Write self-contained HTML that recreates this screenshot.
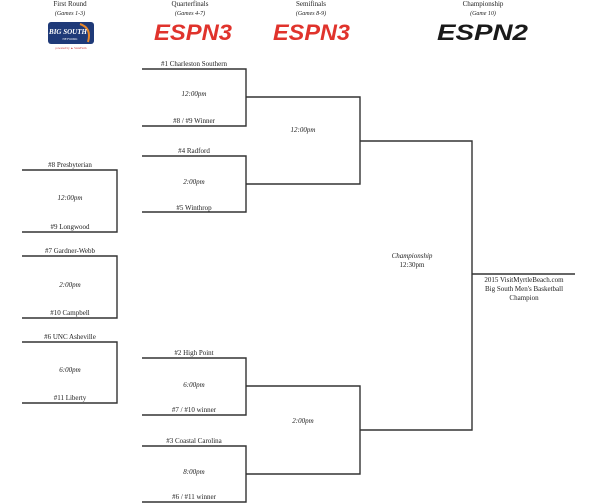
<!DOCTYPE html>
<html><head><meta charset="utf-8"><style>
html,body{margin:0;padding:0;background:#fff;}
svg{display:block;}
text{font-family:"Liberation Serif",serif;fill:#222;}
</style></head><body>
<svg width="600" height="504" viewBox="0 0 600 504" xmlns="http://www.w3.org/2000/svg">
<g font-size="7" text-anchor="middle">
<text x="70" y="6">First Round</text>
<text x="70" y="15" font-style="italic" font-size="6">(Games 1-3)</text>
<text x="190" y="6">Quarterfinals</text>
<text x="190" y="15" font-style="italic" font-size="6">(Games 4-7)</text>
<text x="311" y="6">Semifinals</text>
<text x="311" y="15" font-style="italic" font-size="6">(Games 8-9)</text>
<text x="483" y="6">Championship</text>
<text x="483" y="15" font-style="italic" font-size="6">(Game 10)</text>
</g>
<rect x="48" y="22" width="46" height="22" rx="3" fill="#1f3a78"/>
<path d="M80 24 Q92 28 88 42" stroke="#e8872a" stroke-width="2" fill="none"/>
<text x="68" y="34" font-size="7" font-weight="bold" font-style="italic" text-anchor="middle" style="fill:#fff">BIG SOUTH</text>
<text x="70" y="40" font-size="3" text-anchor="middle" style="fill:#fff">NETWORK</text>
<text x="71" y="49" font-size="3" text-anchor="middle" style="fill:#c33">powered by ▲ StateFarm</text>
<g font-weight="bold" font-style="italic" font-size="22">
<text x="154" y="40" textLength="78" lengthAdjust="spacingAndGlyphs" style="fill:#e0332c;font-family:'Liberation Sans',sans-serif">ESPN3</text>
<text x="273" y="40" textLength="77" lengthAdjust="spacingAndGlyphs" style="fill:#e0332c;font-family:'Liberation Sans',sans-serif">ESPN3</text>
<text x="437" y="40" textLength="91" lengthAdjust="spacingAndGlyphs" style="fill:#1a1a1a;font-family:'Liberation Sans',sans-serif">ESPN2</text>
</g>
<g stroke="#333" stroke-width="1.4" fill="none">
<path d="M22 170H117V232H22"/>
<path d="M22 256H117V318H22"/>
<path d="M22 342H117V403H22"/>
<path d="M142 69H246V126H142"/>
<path d="M142 156H246V212H142"/>
<path d="M142 358H246V415H142"/>
<path d="M142 446H246V502H142"/>
<path d="M246 97H360V184H246"/>
<path d="M246 386H360V474H246"/>
<path d="M360 141H472V430H360"/>
<path d="M472 274H575"/>
</g>
<g font-size="7" text-anchor="middle">
<text x="70" y="167">#8 Presbyterian</text>
<text x="70" y="200" font-style="italic">12:00pm</text>
<text x="70" y="229">#9 Longwood</text>
<text x="70" y="253">#7 Gardner-Webb</text>
<text x="70" y="287" font-style="italic">2:00pm</text>
<text x="70" y="315">#10 Campbell</text>
<text x="70" y="339">#6 UNC Asheville</text>
<text x="70" y="372" font-style="italic">6:00pm</text>
<text x="70" y="400">#11 Liberty</text>

<text x="194" y="66">#1 Charleston Southern</text>
<text x="194" y="96" font-style="italic">12:00pm</text>
<text x="194" y="123">#8 / #9 Winner</text>
<text x="194" y="153">#4 Radford</text>
<text x="194" y="184" font-style="italic">2:00pm</text>
<text x="194" y="210">#5 Winthrop</text>
<text x="194" y="355">#2 High Point</text>
<text x="194" y="387" font-style="italic">6:00pm</text>
<text x="194" y="412">#7 / #10 winner</text>
<text x="194" y="443">#3 Coastal Carolina</text>
<text x="194" y="474" font-style="italic">8:00pm</text>
<text x="194" y="499">#6 / #11 winner</text>

<text x="303" y="132" font-style="italic">12:00pm</text>
<text x="303" y="423" font-style="italic">2:00pm</text>
<text x="412" y="258" font-style="italic">Championship</text>
<text x="412" y="267">12:30pm</text>
<text x="524" y="282">2015 VisitMyrtleBeach.com</text>
<text x="524" y="291">Big South Men's Basketball</text>
<text x="524" y="300">Champion</text>
</g>
</svg>
</body></html>
